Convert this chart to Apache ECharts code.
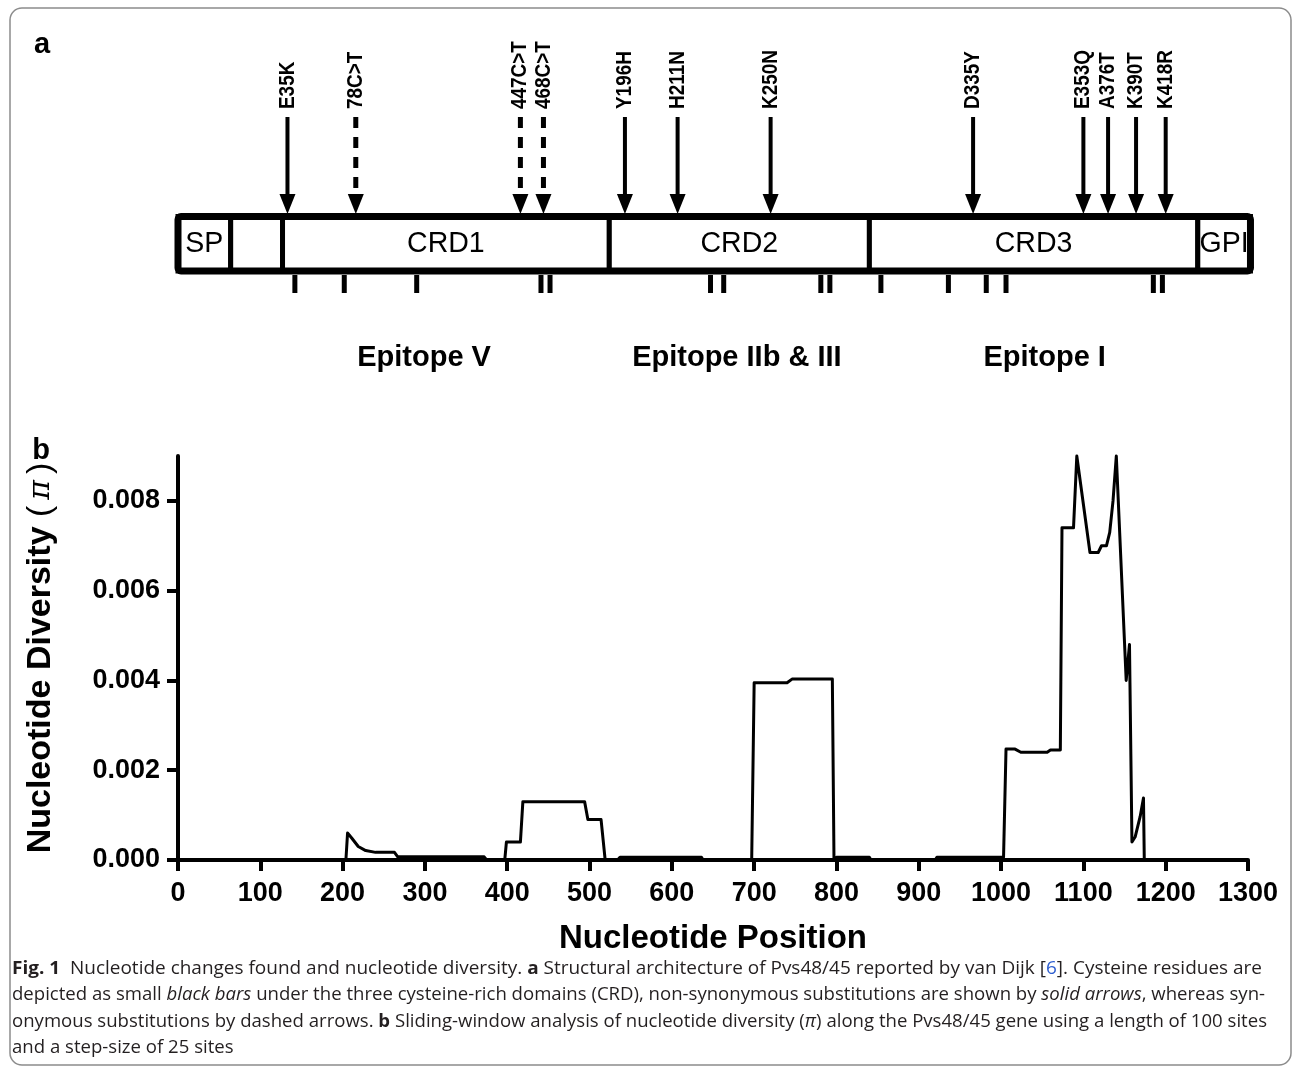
<!DOCTYPE html>
<html><head><meta charset="utf-8">
<script src="https://cdn.jsdelivr.net/npm/echarts@6/dist/echarts.min.js"></script>
<style>html,body{margin:0;padding:0;background:#fff}#main{width:1295px;height:1070px}</style>
</head><body><div id="main"></div>
<script>
// ---------- DATA ----------
const xTickLabels = [0,100,200,300,400,500,600,700,800,900,1000,1100,1200,1300];
const yTickLabels = [0, 0.002, 0.004, 0.006, 0.008];

const positions = [0,204,206,211,219,228,240,263,267,372,375,
  397,399,416,419,494,498,514,519,
  534,537,636,638,
  697,700,740,746,795,797,800,840,842,
  920,922,1003,1006,1017,1024,1056,1060,1072,1074,1088,1092,1108,1118,1122,1128,1132,1136,1140,1152,1156,1159,1163,1169,1173,1174];
const diversity = [0,0,0.0006,0.00049,0.0003,0.00021,0.00017,0.00017,0.00007,0.00007,0,
  0,0.0004,0.0004,0.0013,0.0013,0.0009,0.0009,0,
  0,0.00006,0.00006,0,
  0,0.00395,0.00395,0.00403,0.00403,0,0.00006,0.00006,0,
  0,0.00006,0.00006,0.00247,0.00247,0.0024,0.0024,0.00245,0.00245,0.0074,0.0074,0.009,0.00685,0.00685,0.007,0.007,0.0073,0.008,0.009,0.004,0.0048,0.0004,0.00052,0.00097,0.00138,0];

const domainNames  = ['SP','','CRD1','CRD2','CRD3','GPI'];
const domainStarts = [0,64,127,524,840,1239];
const domainEnds   = [64,127,524,840,1239,1303];

const mutationLabels = ['E35K','78C>T','447C>T','468C>T','Y196H','H211N','K250N','D335Y','E353Q','A376T','K390T','K418R'];
const mutationPos    = [133,216,416,444,543,607,720,966,1100,1130,1164,1200];
const mutationSynonymous = [false,true,true,true,false,false,false,false,false,false,false,false];

const cysteinePos = [142,202,290,441,452,647,663,781,792,854,936,982,1006,1185,1196];

const epitopeLabels = ['Epitope V','Epitope IIb & III','Epitope I'];
const epitopePos    = [299,679,1053];

const captionLines = [
  [['b','Fig. 1'],['n','  Nucleotide changes found and nucleotide diversity. '],['b','a'],['n',' Structural architecture of Pvs48/45 reported by van Dijk ['],['l','6'],['n',']. Cysteine residues are']],
  [['n','depicted as small '],['i','black bars'],['n',' under the three cysteine-rich domains (CRD), non-synonymous substitutions are shown by '],['i','solid arrows'],['n',', whereas syn-']],
  [['n','onymous substitutions by dashed arrows. '],['b','b'],['n',' Sliding-window analysis of nucleotide diversity ('],['i','\u03c0'],['n',') along the Pvs48/45 gene using a length of 100 sites']],
  [['n','and a step-size of 25 sites']]
];

// ---------- LAYOUT ----------
const FONT = '"Liberation Sans", Arial, sans-serif';
const CAP_FONT = '"Open Sans"';
const CAP_SIZE = 17.5;
const GRID_LEFT = 178, GRID_RIGHT = 47;
const BOX_TOP = 216.5, BOX_BOTTOM = 271, BOX_MID = 244;
const SHAFT_TOP = 117, HEAD_TOP = 194, HEAD_TIP = 214;
const LABEL_BASE = 109;
const CYS_TOP = 275, CYS_H = 18;

const chart = echarts.init(document.getElementById('main'), null, {renderer: 'canvas'});

// caption measurement / fitting
const capFonts = {
  n: CAP_SIZE + 'px ' + CAP_FONT, b: 'bold ' + CAP_SIZE + 'px ' + CAP_FONT,
  i: 'italic ' + CAP_SIZE + 'px ' + CAP_FONT, l: CAP_SIZE + 'px ' + CAP_FONT
};
const capRich = {
  n: {fontSize:CAP_SIZE, fontFamily:CAP_FONT, fill:'#231f20'},
  b: {fontSize:CAP_SIZE, fontFamily:CAP_FONT, fontWeight:'bold', fill:'#231f20'},
  i: {fontSize:CAP_SIZE, fontFamily:CAP_FONT, fontStyle:'italic', fill:'#231f20'},
  l: {fontSize:CAP_SIZE, fontFamily:CAP_FONT, fill:'#2f5fd0'}
};
const mctx = document.createElement('canvas').getContext('2d');
function segWidth(segs){
  let w = 0;
  segs.forEach(([k,t]) => { mctx.font = capFonts[k]; w += mctx.measureText(t).width; });
  return w;
}
const capTargets = [1250, 1253, 1255, null];
const capY = [969, 995, 1022, 1048];
let lastScale = 0.8;
const captionGraphics = captionLines.map((segs, i) => {
  let s = lastScale;
  if (capTargets[i]) { s = capTargets[i] / segWidth(segs); lastScale = s; }
  return {
    type: 'text', x: 12, y: capY[i], scaleX: s, scaleY: 1, silent: true,
    style: {
      text: segs.map(([k,t]) => '{' + k + '|' + t + '}').join(''),
      rich: capRich, verticalAlign: 'middle', align: 'left'
    }
  };
});

const option = {
  backgroundColor: '#fff',
  animation: false,
  grid: [
    {left: GRID_LEFT, right: GRID_RIGHT, top: 456, bottom: 210, outerBoundsMode: 'none', containLabel: false},
    {left: GRID_LEFT, right: GRID_RIGHT, top: 0, height: 400, outerBoundsMode: 'none', containLabel: false}
  ],
  xAxis: [
    {
      type: 'value', gridIndex: 0, min: 0, max: 1300, interval: 100,
      splitLine: {show: false},
      axisLine: {show: true, onZero: false, lineStyle: {color: '#000', width: 4}},
      axisTick: {show: true, length: 11, customValues: xTickLabels, lineStyle: {color: '#000', width: 4}},
      axisLabel: {show: true, interval: 0, customValues: xTickLabels, margin: 20, color: '#000',
        fontSize: 27, fontWeight: 'bold', fontFamily: FONT, formatter: v => String(v)},
      name: 'Nucleotide Position', nameLocation: 'middle', nameGap: 62,
      nameTextStyle: {color: '#000', fontSize: 33, fontWeight: 'bold', fontFamily: FONT}
    },
    {type: 'value', gridIndex: 1, min: 0, max: 1300, show: false}
  ],
  yAxis: [
    {
      type: 'value', gridIndex: 0, min: 0, max: 0.009,
      splitLine: {show: false},
      axisLine: {show: true, onZero: false, lineStyle: {color: '#000', width: 4}},
      axisTick: {show: true, length: 11, customValues: yTickLabels, lineStyle: {color: '#000', width: 4}},
      axisLabel: {show: true, customValues: yTickLabels, margin: 18, color: '#000',
        fontSize: 27, fontWeight: 'bold', fontFamily: FONT, formatter: v => v.toFixed(3)},
      name: '{b|Nucleotide Diversity }{p|(}{pi|\u03c0}{p|)}',
      nameLocation: 'middle', nameGap: 120,
      nameTextStyle: {
        color: '#000', fontSize: 34, fontFamily: FONT,
        rich: {
          b: {fontSize: 34, fontWeight: 'bold', fontFamily: FONT, color: '#000'},
          p: {fontSize: 34, fontWeight: 'normal', fontFamily: FONT, color: '#000'},
          pi: {fontSize: 30, fontStyle: 'italic', fontFamily: '"DejaVu Serif", serif', color: '#000', padding: [0, 6]}
        }
      }
    },
    {type: 'value', gridIndex: 1, min: 0, max: 1, show: false}
  ],
  graphic: [
    {type: 'rect', silent: true, shape: {x: 10, y: 8, width: 1281, height: 1057, r: 12},
      style: {fill: 'none', stroke: '#8c8c8c', lineWidth: 1.5}},
    {type: 'text', x: 42, y: 45, silent: true, style: {text: 'a', fontSize: 29, fontWeight: 'bold', fontFamily: FONT, fill: '#000', align: 'center', verticalAlign: 'middle'}},
    {type: 'text', x: 41, y: 451, silent: true, style: {text: 'b', fontSize: 29, fontWeight: 'bold', fontFamily: FONT, fill: '#000', align: 'center', verticalAlign: 'middle'}}
  ].concat(captionGraphics),
  series: [
    {
      type: 'line', xAxisIndex: 0, yAxisIndex: 0, showSymbol: false, symbol: 'none', clip: false,
      data: positions.map((x, i) => [x, diversity[i]]),
      lineStyle: {color: '#000', width: 3, join: 'round'}, z: 3
    },
    // cysteine bars
    {
      type: 'custom', xAxisIndex: 1, yAxisIndex: 1, silent: true, z: 2,
      data: cysteinePos.map(v => [v]), encode: {x: 0},
      renderItem: (params, api) => {
        const x = api.coord([api.value(0), 0])[0];
        return {type: 'rect', shape: {x: x - 2.5, y: CYS_TOP, width: 5, height: CYS_H}, style: {fill: '#000'}};
      }
    },
    // domains
    {
      type: 'custom', xAxisIndex: 1, yAxisIndex: 1, silent: true, z: 3,
      data: domainStarts.map((s, i) => [s, domainEnds[i]]), encode: {x: [0, 1]},
      renderItem: (params, api) => {
        const x0 = api.coord([api.value(0), 0])[0];
        const x1 = api.coord([api.value(1), 0])[0];
        return {type: 'group', children: [
          {type: 'rect', shape: {x: x0, y: BOX_TOP, width: x1 - x0, height: BOX_BOTTOM - BOX_TOP},
            style: {fill: '#fff', stroke: '#000', lineWidth: 5}},
          {type: 'text', x: (x0 + x1) / 2, y: BOX_MID, scaleX: 0.95,
            style: {text: domainNames[params.dataIndex], fontSize: 30, fontFamily: FONT, fill: '#000', align: 'center', verticalAlign: 'middle'}}
        ]};
      }
    },
    // outer frame
    {
      type: 'custom', xAxisIndex: 1, yAxisIndex: 1, silent: true, z: 4,
      data: [[domainStarts[0], domainEnds[domainEnds.length - 1]]], encode: {x: [0, 1]},
      renderItem: (params, api) => {
        const x0 = api.coord([api.value(0), 0])[0];
        const x1 = api.coord([api.value(1), 0])[0];
        return {type: 'rect', shape: {x: x0, y: BOX_TOP, width: x1 - x0, height: BOX_BOTTOM - BOX_TOP, r: 3},
          style: {fill: 'none', stroke: '#000', lineWidth: 7}};
      }
    },
    // mutation arrows
    {
      type: 'custom', xAxisIndex: 1, yAxisIndex: 1, silent: true, z: 5,
      data: mutationPos.map(v => [v]), encode: {x: 0},
      renderItem: (params, api) => {
        const i = params.dataIndex;
        const x = api.coord([api.value(0), 0])[0];
        const dashed = mutationSynonymous[i];
        return {type: 'group', children: [
          {type: 'line', shape: {x1: x, y1: SHAFT_TOP, x2: x, y2: HEAD_TOP + 1},
            style: {stroke: '#000', lineWidth: dashed ? 5 : 4, lineDash: dashed ? [11, 9] : null}},
          {type: 'polygon', shape: {points: [[x - 8, HEAD_TOP], [x + 8, HEAD_TOP], [x, HEAD_TIP]]},
            style: {fill: '#000'}},
          {type: 'text', x: x, y: LABEL_BASE, rotation: Math.PI / 2, scaleX: 0.86,
            style: {text: mutationLabels[i], fontSize: 22, fontWeight: 'bold', fontFamily: FONT, fill: '#000', align: 'left', verticalAlign: 'middle'}}
        ]};
      }
    },
    // epitope labels
    {
      type: 'custom', xAxisIndex: 1, yAxisIndex: 1, silent: true, z: 5,
      data: epitopePos.map(v => [v]), encode: {x: 0},
      renderItem: (params, api) => {
        const x = api.coord([api.value(0), 0])[0];
        return {type: 'text', x: x, y: 358,
          style: {text: epitopeLabels[params.dataIndex], fontSize: 29, fontWeight: 'bold', fontFamily: FONT, fill: '#000', align: 'center', verticalAlign: 'middle'}};
      }
    }
  ]
};
chart.setOption(option);
</script>
</body></html>
